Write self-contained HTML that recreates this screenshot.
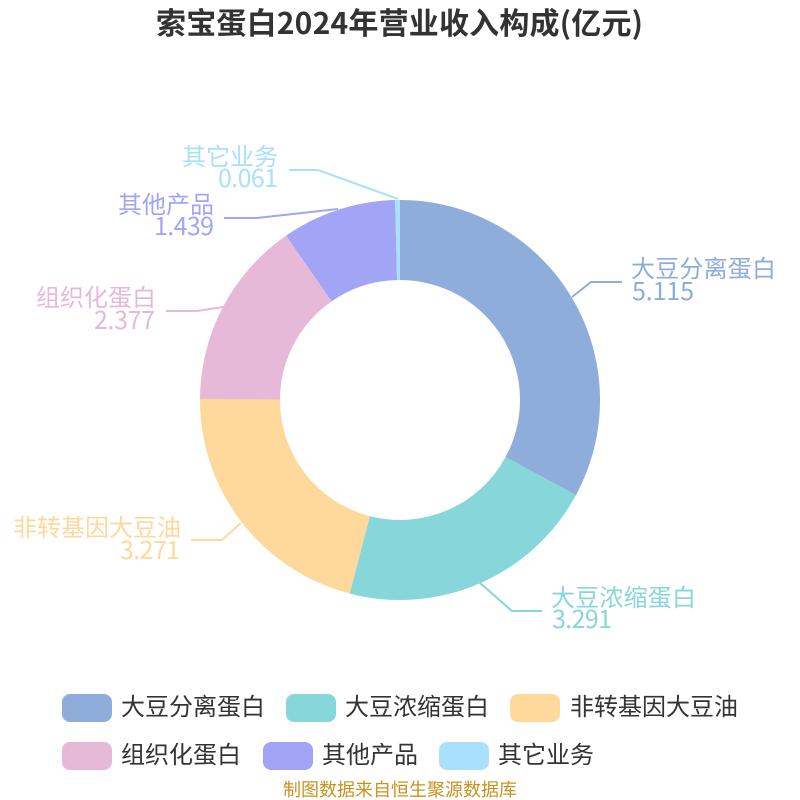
<!DOCTYPE html>
<html><head><meta charset="utf-8">
<style>
html,body{margin:0;padding:0;background:#fff;}
svg{display:block;}
text{font-family:"Noto Sans CJK SC","Liberation Sans",sans-serif;}
</style></head>
<body>
<svg width="800" height="800" viewBox="0 0 800 800" xmlns="http://www.w3.org/2000/svg">
<text x="156" y="34" textLength="487" font-size="30" font-weight="700" fill="#333">索宝蛋白2024年营业收入构成(亿元)</text>

<path d="M400 200A200 200 0 0 1 575.95 495.08L505.57 457.05A120 120 0 0 0 400 280Z" fill="#8EADDA"/>
<path d="M575.95 495.08A200 200 0 0 1 349.71 593.58L369.83 516.15A120 120 0 0 0 505.57 457.05Z" fill="#87D6DA"/>
<path d="M349.71 593.58A200 200 0 0 1 200 399.07L280 399.44A120 120 0 0 0 369.83 516.15Z" fill="#FFD89C"/>
<path d="M200 399.07A200 200 0 0 1 286.08 235.62L331.65 301.37A120 120 0 0 0 280 399.44Z" fill="#E6B9D9"/>
<path d="M286.08 235.62A200 200 0 0 1 395.08 200.06L397.05 280.04A120 120 0 0 0 331.65 301.37Z" fill="#A2A5F5"/>
<path d="M395.08 200.06A200 200 0 0 1 400 200L400 280A120 120 0 0 0 397.05 280.04Z" fill="#A8E0FD"/>

<g fill="none" stroke-width="2">
<polyline points="572,297 591,282 622,282" stroke="#8EADDA"/>
<polyline points="480,583 512,611 542,611" stroke="#87D6DA"/>
<polyline points="241,523 222,540 191,540" stroke="#FFD89C"/>
<polyline points="223,307 197,311 166,311" stroke="#E6B9D9"/>
<polyline points="338,209 257,218 224,218" stroke="#A2A5F5"/>
<polyline points="398,199 318,170 289,170" stroke="#A8E0FD"/>
</g>

<g font-size="24">
<g fill="#8EADDA"><text x="631" y="277" textLength="145">大豆分离蛋白</text><text x="632" y="300" textLength="62" font-size="25">5.115</text></g>
<g fill="#87D6DA"><text x="551" y="606" textLength="145">大豆浓缩蛋白</text><text x="552" y="628" textLength="60" font-size="25">3.291</text></g>
<g fill="#FFD89C"><text x="13" y="536">非转基因大豆油</text><text x="120" y="559" textLength="60" font-size="25">3.271</text></g>
<g fill="#E6B9D9"><text x="36" y="306">组织化蛋白</text><text x="94" y="329" textLength="61" font-size="25">2.377</text></g>
<g fill="#A2A5F5"><text x="118" y="213">其他产品</text><text x="154" y="235" textLength="60" font-size="25">1.439</text></g>
<g fill="#A8E0FD"><text x="182" y="165">其它业务</text><text x="218" y="187" textLength="60" font-size="25">0.061</text></g>
</g>

<g>
<rect x="62" y="694" width="50" height="28" rx="8" fill="#8EADDA"/>
<rect x="286" y="694" width="50" height="28" rx="8" fill="#87D6DA"/>
<rect x="510" y="694" width="50" height="28" rx="8" fill="#FFD89C"/>
<rect x="62" y="742" width="50" height="28" rx="8" fill="#E6B9D9"/>
<rect x="263" y="742" width="50" height="28" rx="8" fill="#A2A5F5"/>
<rect x="439" y="742" width="50" height="28" rx="8" fill="#A8E0FD"/>
</g>
<g font-size="24" fill="#333">
<text x="121" y="715">大豆分离蛋白</text>
<text x="345" y="715">大豆浓缩蛋白</text>
<text x="570" y="715">非转基因大豆油</text>
<text x="121" y="763">组织化蛋白</text>
<text x="322" y="763">其他产品</text>
<text x="498" y="763">其它业务</text>
</g>
<text x="400" y="796" text-anchor="middle" font-size="18" fill="#C8921E">制图数据来自恒生聚源数据库</text>
</svg>
</body></html>
